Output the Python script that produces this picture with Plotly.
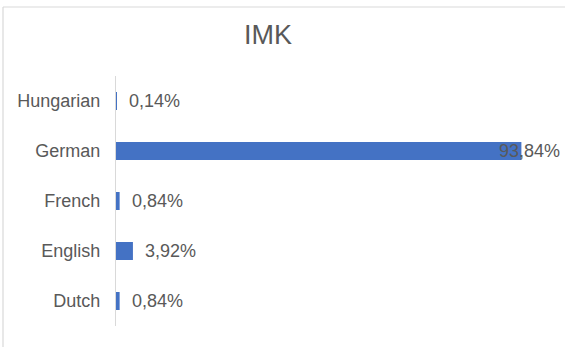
import plotly.graph_objects as go

categories = ["Dutch", "English", "French", "German", "Hungarian"]
values = [0.84, 3.92, 0.84, 93.84, 0.14]
labels = ["0,84%", "3,92%", "0,84%", "93,84%", "0,14%"]
title_text = "IMK"

W, H = 565, 347
ml, mr, mt, mb = 116, 17, 76, 21
pw, ph = W - ml - mr, H - mt - mb

font_family = "Liberation Sans, Arial, sans-serif"
grey = "#595959"
lab_size = 18

fig = go.Figure()
fig.add_trace(go.Bar(
    y=categories, x=values, orientation="h",
    marker=dict(color="#4472C4", line=dict(width=0)),
    width=0.36, hoverinfo="skip",
))

annotations = []
for c, v, t in zip(categories, values, labels):
    if v > 90:
        annotations.append(dict(x=v, y=c, xref="x", yref="y", text=t, showarrow=False,
                                xanchor="right", xshift=41,
                                font=dict(size=lab_size, color=grey, family=font_family)))
    else:
        annotations.append(dict(x=v, y=c, xref="x", yref="y", text=t, showarrow=False,
                                xanchor="left", xshift=10,
                                font=dict(size=lab_size, color=grey, family=font_family)))

annotations.append(dict(x=(268 - ml) / pw, y=(H - mb - 35) / ph, xref="paper", yref="paper",
                        text=title_text, showarrow=False, xanchor="center", yanchor="middle",
                        font=dict(size=27, color=grey, family=font_family)))

def px_x(p):
    return (p - ml) / pw

def px_y(p):
    return (H - mb - p) / ph

shapes = [
    dict(type="line", xref="paper", yref="paper", x0=px_x(3), x1=px_x(565), y0=px_y(7), y1=px_y(7),
         line=dict(color="#d9d9d9", width=1.2)),
    dict(type="line", xref="paper", yref="paper", x0=px_x(3), x1=px_x(3), y0=px_y(7), y1=px_y(347),
         line=dict(color="#d9d9d9", width=1.2)),
]

fig.update_layout(
    width=W, height=H,
    margin=dict(l=ml, r=mr, t=mt, b=mb),
    paper_bgcolor="white", plot_bgcolor="white",
    showlegend=False,
    annotations=annotations,
    shapes=shapes,
    xaxis=dict(range=[0, 100], visible=False, fixedrange=True),
    yaxis=dict(
        categoryorder="array", categoryarray=categories,
        showline=True, linecolor="#d9d9d9", linewidth=1.2,
        ticks="outside", ticklen=11, tickcolor="rgba(0,0,0,0)",
        tickfont=dict(size=lab_size, color=grey, family=font_family),
        showgrid=False, zeroline=False, fixedrange=True,
    ),
)

fig.write_html("out.html", config=dict(displayModeBar=False),
               post_script="document.body.style.margin='0';")
